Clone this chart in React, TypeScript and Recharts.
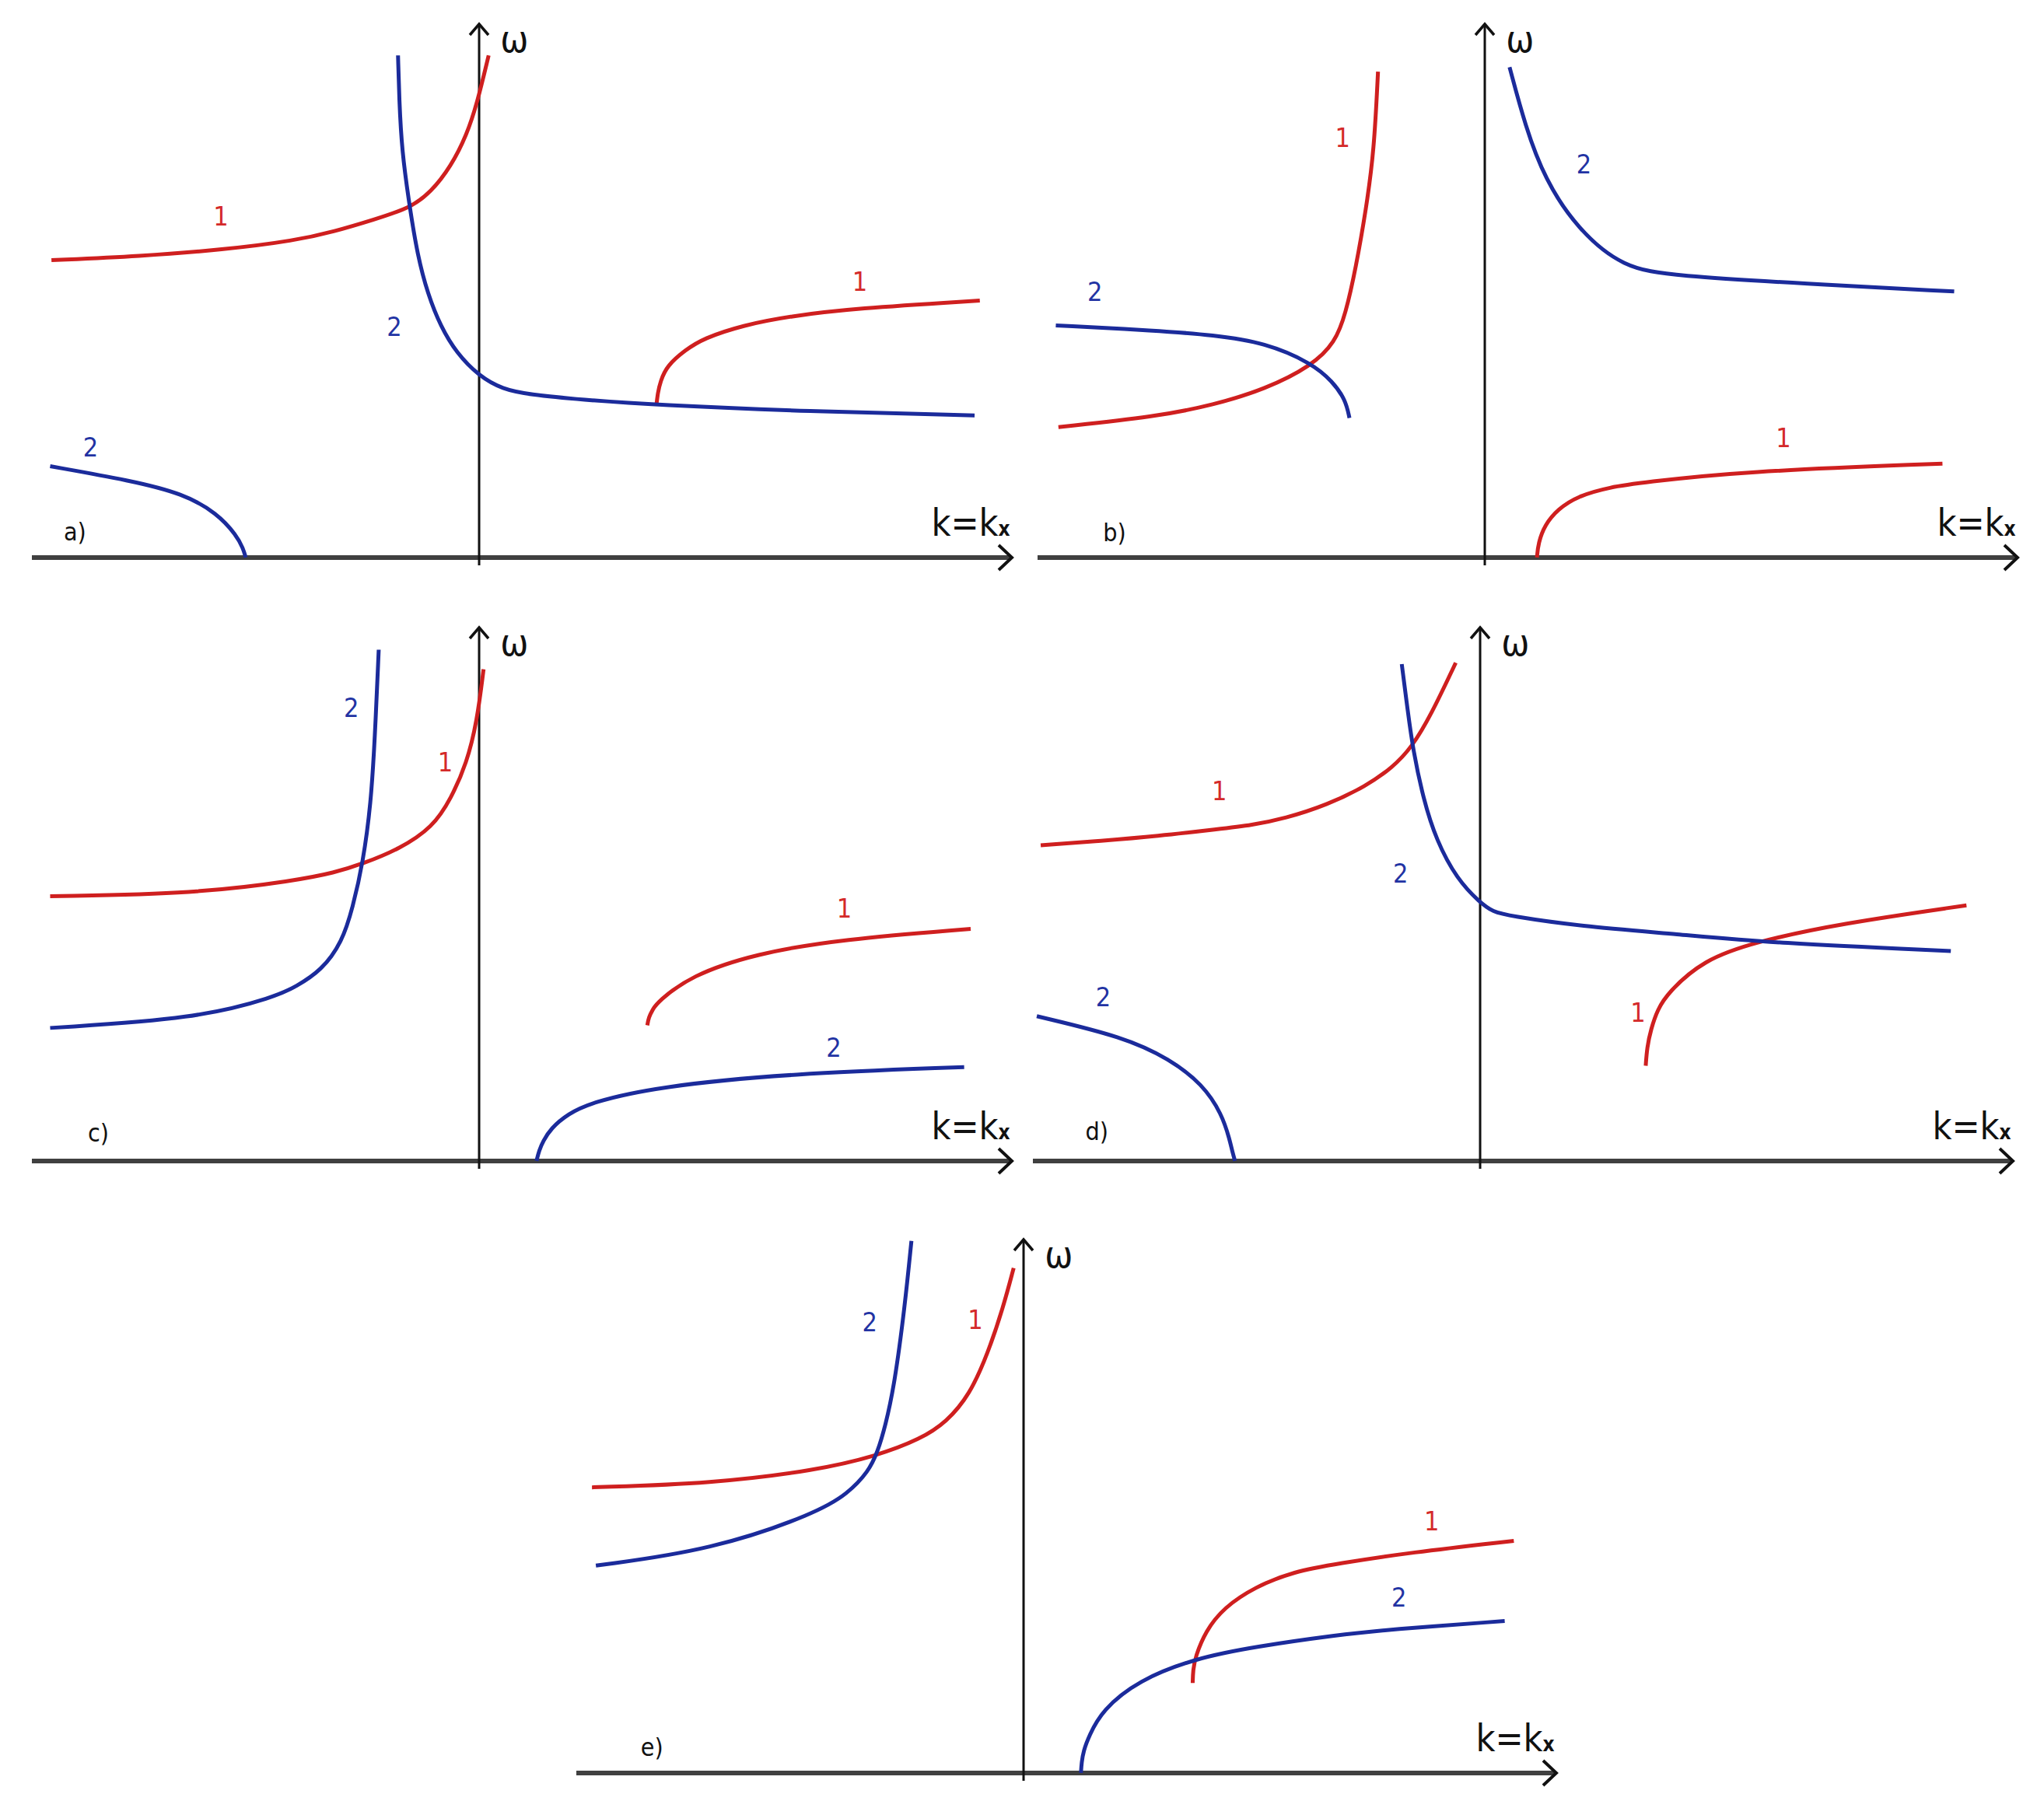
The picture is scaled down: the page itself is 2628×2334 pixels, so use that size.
import React from 'react';
import { LineChart, Line, XAxis, YAxis, ReferenceLine, ReferenceDot } from 'recharts';

// ---------- data (k, ω) in axis units; origin = axis crossing ----------
// panel a
const aRedLeft = [[-3.28, 2.28], [-2.6, 2.31], [-1.96, 2.36], [-1.41, 2.43], [-1.11, 2.5], [-0.81, 2.59], [-0.53, 2.68], [-0.37, 2.8], [-0.215, 3.0], [-0.095, 3.24], [-0.016, 3.48], [0.073, 3.85]];
const aRedRight = [[1.36, 1.17], [1.37, 1.26], [1.39, 1.35], [1.44, 1.47], [1.58, 1.59], [1.72, 1.68], [2.02, 1.78], [2.38, 1.85], [2.88, 1.91], [3.84, 1.97]];
const aBlueMain = [[-0.622, 3.85], [-0.613, 3.52], [-0.593, 3.12], [-0.533, 2.69], [-0.473, 2.32], [-0.394, 2.02], [-0.294, 1.77], [-0.175, 1.57], [0.0, 1.39], [0.18, 1.29], [0.38, 1.25], [0.78, 1.21], [1.36, 1.17], [2.52, 1.12], [3.8, 1.09]];
const aBlueLow = [[-3.29, 0.7], [-2.67, 0.59], [-2.27, 0.49], [-2.01, 0.34], [-1.86, 0.17], [-1.81, 0.07], [-1.79, 0.0]];
// panel b
const bRedLeft = [[-3.27, 1.0], [-2.52, 1.08], [-2.08, 1.17], [-1.684, 1.29], [-1.326, 1.47], [-1.147, 1.65], [-1.068, 1.866], [-0.989, 2.22], [-0.909, 2.68], [-0.849, 3.12], [-0.819, 3.725]];
const bRedRight = [[0.4, 0.0], [0.41, 0.11], [0.46, 0.25], [0.56, 0.37], [0.71, 0.47], [0.96, 0.54], [1.21, 0.575], [1.96, 0.66], [3.51, 0.72]];
const bBlueLeft = [[-3.29, 1.78], [-2.52, 1.74], [-2.08, 1.706], [-1.684, 1.647], [-1.326, 1.49], [-1.168, 1.35], [-1.068, 1.21], [-1.038, 1.07]];
const bBlueRight = [[0.19, 3.76], [0.31, 3.31], [0.46, 2.9], [0.71, 2.52], [1.06, 2.22], [1.46, 2.16], [2.45, 2.1], [3.6, 2.04]];
// panel c
const cRedLeft = [[-3.29, 2.03], [-2.17, 2.05], [-1.408, 2.15], [-1.11, 2.21], [-0.89, 2.28], [-0.615, 2.39], [-0.354, 2.56], [-0.215, 2.78], [-0.095, 3.05], [-0.016, 3.37], [0.034, 3.77]];
const cRedRight = [[1.29, 1.04], [1.3, 1.1], [1.33, 1.16], [1.37, 1.22], [1.62, 1.42], [2.12, 1.59], [2.78, 1.7], [3.77, 1.78]];
const cBlueLeft = [[-3.29, 1.02], [-2.17, 1.09], [-1.56, 1.26], [-1.408, 1.335], [-1.209, 1.46], [-1.05, 1.68], [-0.97, 1.94], [-0.89, 2.29], [-0.83, 2.74], [-0.8, 3.23], [-0.77, 3.92]];
const cBlueRight = [[0.44, 0.0], [0.46, 0.08], [0.49, 0.15], [0.55, 0.25], [0.68, 0.36], [0.86, 0.45], [1.37, 0.57], [2.38, 0.67], [3.72, 0.72]];
// panel d
const dRedLeft = [[-3.37, 2.42], [-2.9, 2.455], [-2.48, 2.49], [-2.0, 2.545], [-1.75, 2.575], [-1.5, 2.625], [-1.171, 2.73], [-0.873, 2.876], [-0.674, 3.015], [-0.525, 3.17], [-0.376, 3.42], [-0.187, 3.82]];
const dRedRight = [[1.27, 0.73], [1.28, 0.87], [1.31, 1.01], [1.36, 1.16], [1.44, 1.29], [1.71, 1.54], [2.11, 1.68], [2.76, 1.82], [3.73, 1.96]];
const dBlueMain = [[-0.601, 3.81], [-0.555, 3.45], [-0.515, 3.155], [-0.436, 2.776], [-0.336, 2.458], [-0.177, 2.16], [0.0, 1.98], [0.1, 1.91], [0.22, 1.88], [0.76, 1.8], [1.51, 1.74], [2.26, 1.67], [3.61, 1.61]];
const dBlueLow = [[-3.4, 1.11], [-2.73, 0.95], [-2.38, 0.78], [-2.13, 0.59], [-1.98, 0.36], [-1.92, 0.16], [-1.9, 0.07], [-1.88, 0.0]];
// panel e
const eRedLeft = [[-3.31, 2.19], [-2.39, 2.22], [-1.587, 2.321], [-1.13, 2.43], [-0.79, 2.56], [-0.592, 2.69], [-0.413, 2.9], [-0.274, 3.216], [-0.155, 3.574], [-0.076, 3.872]];
const eRedRight = [[1.297, 0.69], [1.3, 0.79], [1.317, 0.889], [1.396, 1.088], [1.535, 1.267], [1.774, 1.426], [2.072, 1.545], [2.41, 1.605], [2.96, 1.69], [3.76, 1.78]];
const eBlueLeft = [[-3.28, 1.59], [-2.39, 1.71], [-1.587, 1.993], [-1.348, 2.142], [-1.189, 2.311], [-1.12, 2.46], [-1.06, 2.66], [-0.99, 2.977], [-0.911, 3.574], [-0.86, 4.08]];
const eBlueRight = [[0.44, 0.0], [0.445, 0.08], [0.46, 0.17], [0.5, 0.28], [0.601, 0.48], [0.879, 0.71], [1.317, 0.879], [1.774, 0.968], [2.41, 1.058], [2.8, 1.1], [3.69, 1.165]];

// curve number labels: [k, ω, text, series]
const aLabels = [[-1.98, 2.62, '1', 'red'], [2.92, 2.12, '1', 'red'], [-0.65, 1.77, '2', 'blue'], [-2.98, 0.85, '2', 'blue']];
const bLabels = [[-1.09, 3.22, '1', 'red'], [2.29, 0.92, '1', 'red'], [0.76, 3.02, '2', 'blue'], [-2.99, 2.04, '2', 'blue']];
const cLabels = [[-0.26, 3.06, '1', 'red'], [2.8, 1.94, '1', 'red'], [-0.98, 3.48, '2', 'blue'], [2.72, 0.87, '2', 'blue']];
const dLabels = [[-2.0, 2.84, '1', 'red'], [1.21, 1.14, '1', 'red'], [-0.61, 2.21, '2', 'blue'], [-2.89, 1.26, '2', 'blue']];
const eLabels = [[-0.37, 3.475, '1', 'red'], [3.13, 1.935, '1', 'red'], [-1.18, 3.46, '2', 'blue'], [2.88, 1.35, '2', 'blue']];

const panelTags = ['a)', 'b)', 'c)', 'd)', 'e)'];
const tagPos = [[-3.1, 0.2], [-2.84, 0.195], [-2.92, 0.22], [-2.94, 0.23], [-2.85, 0.2]];
const omegaPos = [0.27, 3.98];
const kPos = [3.77, 0.27];

// ---------- layout / style ----------
const K_MIN = -3.43, K_MAX = 4.08, W_MIN = -0.06, W_MAX = 4.09;
const UNIT = 167.6; // px per axis unit
const M = 40;
const RED = '#cf1f1f';
const BLUE = '#1b2b9b';
const RED_T = '#d42a2a';
const BLUE_T = '#2233a3';
const FONT = "'Liberation Sans Narrow', 'DejaVu Sans Condensed', 'Roboto Condensed', 'Liberation Sans', sans-serif";

const toPts = (arr: number[][]) => arr.map(([k, w]) => ({ k, w }));

const arrowRight = (p: any) => (
  <path d={`M${p.cx - 16},${p.cy - 16} L${p.cx + 1},${p.cy} L${p.cx - 16},${p.cy + 16}`} fill="none" stroke="#111" strokeWidth={4} />
);
const arrowUp = (p: any) => (
  <path d={`M${p.cx - 12},${p.cy + 14} L${p.cx},${p.cy} L${p.cx + 12},${p.cy + 14}`} fill="none" stroke="#111" strokeWidth={3.5} />
);
const textShape = (text: string, color: string, size: number) => (p: any) => (
  <text x={p.cx} y={p.cy + size * 0.36} textAnchor="middle" fontFamily={FONT} fontSize={size} fill={color}>{text}</text>
);
const kShape = (p: any) => (
  <text x={p.cx} y={p.cy + 17} textAnchor="middle" fontFamily={FONT} fontSize={48} fill="#111">
    k=k<tspan fontSize={26} fontWeight="bold">x</tspan>
  </text>
);

type PanelProps = { ox: number; oy: number; red: number[][][]; blue: number[][][]; labels: any[]; idx: number };

function Panel({ ox, oy, red, blue, labels, idx }: PanelProps) {
  const plotW = Math.round((K_MAX - K_MIN) * UNIT);
  const plotH = Math.round((W_MAX - W_MIN) * UNIT);
  const left = Math.round(ox + K_MIN * UNIT - M);
  const top = Math.round(oy - W_MAX * UNIT - M);
  return (
    <div style={{ position: 'absolute', left, top }}>
      <LineChart width={plotW + 2 * M} height={plotH + 2 * M} margin={{ top: M, right: M, bottom: M, left: M }}>
        <XAxis type="number" dataKey="k" domain={[K_MIN, K_MAX]} allowDataOverflow hide />
        <YAxis type="number" domain={[W_MIN, W_MAX]} allowDataOverflow hide />
        <ReferenceLine y={0} stroke="#404040" strokeWidth={6} />
        <ReferenceLine x={0} stroke="#111" strokeWidth={3} />
        <ReferenceDot x={K_MAX} y={0} r={0} ifOverflow="visible" shape={arrowRight} />
        <ReferenceDot x={0} y={W_MAX} r={0} ifOverflow="visible" shape={arrowUp} />
        {red.map((d, i) => (
          <Line key={'r' + i} data={toPts(d)} dataKey="w" type="basis" stroke={RED} strokeWidth={5} dot={false} activeDot={false} isAnimationActive={false} />
        ))}
        {blue.map((d, i) => (
          <Line key={'b' + i} data={toPts(d)} dataKey="w" type="basis" stroke={BLUE} strokeWidth={5} dot={false} activeDot={false} isAnimationActive={false} />
        ))}
        {labels.map((l, i) => (
          <ReferenceDot key={'l' + i} x={l[0]} y={l[1]} r={0} ifOverflow="visible" shape={textShape(l[2], l[3] === 'red' ? RED_T : BLUE_T, 34)} />
        ))}
        <ReferenceDot x={tagPos[idx][0]} y={tagPos[idx][1]} r={0} ifOverflow="visible" shape={textShape(panelTags[idx], '#111', 32)} />
        <ReferenceDot x={omegaPos[0]} y={omegaPos[1]} r={0} ifOverflow="visible" shape={textShape('ω', '#111', 48)} />
        <ReferenceDot x={kPos[0]} y={kPos[1]} r={0} ifOverflow="visible" shape={kShape} />
      </LineChart>
    </div>
  );
}

export default function App() {
  return (
    <div style={{ position: 'absolute', left: 0, top: 0, width: 2628, height: 2334, background: '#fff' }}>
      <Panel idx={0} ox={616} oy={716} red={[aRedLeft, aRedRight]} blue={[aBlueMain, aBlueLow]} labels={aLabels} />
      <Panel idx={1} ox={1909} oy={716} red={[bRedLeft, bRedRight]} blue={[bBlueLeft, bBlueRight]} labels={bLabels} />
      <Panel idx={2} ox={616} oy={1492} red={[cRedLeft, cRedRight]} blue={[cBlueLeft, cBlueRight]} labels={cLabels} />
      <Panel idx={3} ox={1903} oy={1492} red={[dRedLeft, dRedRight]} blue={[dBlueMain, dBlueLow]} labels={dLabels} />
      <Panel idx={4} ox={1316} oy={2279} red={[eRedLeft, eRedRight]} blue={[eBlueLeft, eBlueRight]} labels={eLabels} />
    </div>
  );
}
